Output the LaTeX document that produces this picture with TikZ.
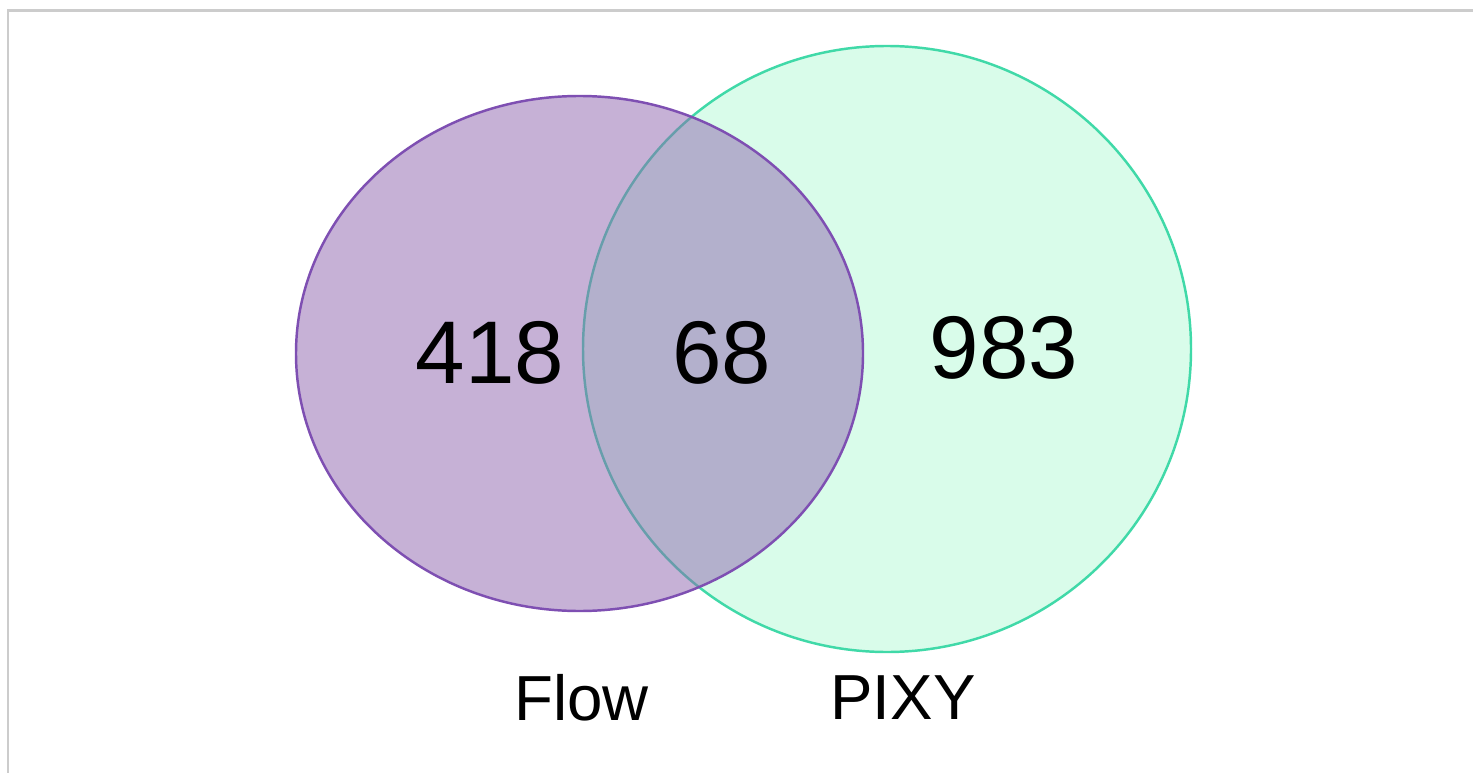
\documentclass[tikz,border=0pt]{standalone}
\usepackage{fontspec}
\setmainfont{Liberation Sans}
\definecolor{frame}{RGB}{204,204,204}
\definecolor{purpfill}{RGB}{143,101,175}
\definecolor{purpline}{RGB}{126,79,178}
\definecolor{greenfill}{RGB}{217,252,234}
\definecolor{greenline}{RGB}{64,217,168}
\begin{document}
\begin{tikzpicture}[x=0.01cm,y=-0.01cm,
  setA/.style={fill=purpfill,fill opacity=0.5,draw=purpline,line width=0.7pt},
  setB/.style={fill=greenfill,draw=greenline,line width=0.7pt},
  count/.style={inner sep=0pt,font=\fontsize{25.3}{29}\selectfont,text=black},
  setlabel/.style={inner sep=0pt,font=\fontsize{18.1}{22}\selectfont,text=black}]
\useasboundingbox (0,0) rectangle (1473,773);
\fill[white] (0,0) rectangle (1473,773);
\draw[frame,line width=0.6pt] (1473,10.5) -- (8,10.5) -- (8,773);
\draw[setB] (887,349) ellipse [x radius=304, y radius=303];
\draw[setA] (579.5,353.5) ellipse [x radius=283.5, y radius=257.5];
\node[count] (nA) at (490,353) {418};
\node[count] (nAB) at (721.5,353) {68};
\node[count] (nB) at (1004,347.5) {983};
\node[setlabel] (lA) at (581.5,698) {Flow};
\node[setlabel] (lB) at (903,698) {PIXY};
\end{tikzpicture}
\end{document}
